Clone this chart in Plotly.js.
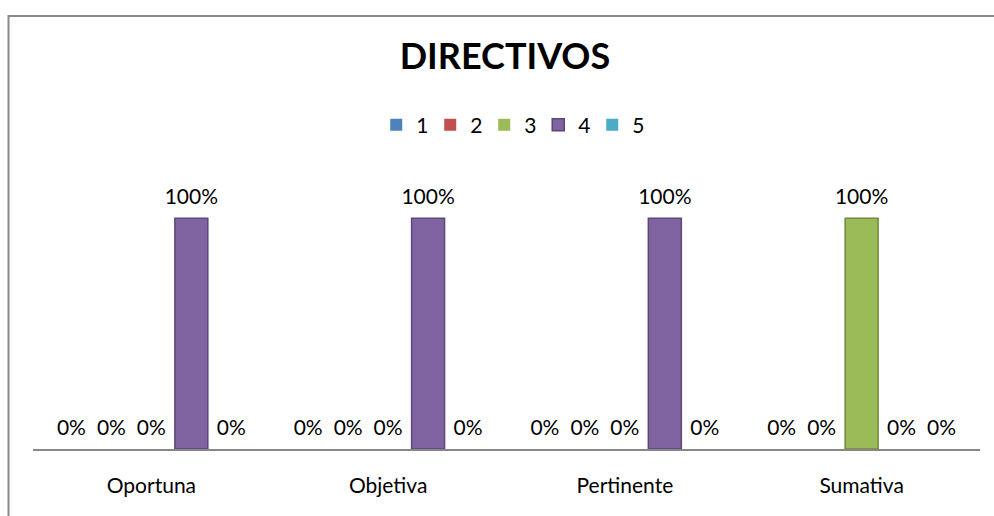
<!DOCTYPE html>
<html>
<head>
<meta charset="utf-8">
<script src="https://cdn.plot.ly/plotly-3.0.1.min.js"></script>
<style>html,body{margin:0;padding:0;background:#fff;}#chart{width:994px;height:516px;}</style>
</head>
<body>
<div id="chart"></div>
<script>
var categories = ["Oportuna", "Objetiva", "Pertinente", "Sumativa"];
var seriesNames = ["1", "2", "3", "4", "5"];
var s1 = [0, 0, 0, 0];
var s2 = [0, 0, 0, 0];
var s3 = [0, 0, 0, 1];
var s4 = [1, 1, 1, 0];
var s5 = [0, 0, 0, 0];
var seriesValues = [s1, s2, s3, s4, s5];
var colors = ["#4F81BD", "#C0504D", "#9BBB59", "#8064A2", "#4BACC6"];
var edgeColors = ["#3A6595", "#9A3B38", "#6F8A3A", "#5C4778", "#358BA3"];

var FONT = "Lato, 'Open Sans', sans-serif";
var GAP = 0.156;

function pct(v){ return Math.round(v*100) + "%"; }

var traces = [];
seriesValues.forEach(function(vals, i){
  traces.push({
    type: "bar",
    name: seriesNames[i],
    x: categories,
    y: vals,
    offsetgroup: "g" + i,
    marker: {color: colors[i], line: {color: edgeColors[i], width: vals.map(function(v){ return v > 0 ? 1.5 : 0; })}},
    hoverinfo: "skip"
  });
});
seriesValues.forEach(function(vals, i){
  traces.push({
    type: "scatter",
    mode: "markers+text",
    showlegend: false,
    x: categories,
    y: vals,
    offsetgroup: "g" + i,
    text: vals.map(pct),
    textposition: "top center",
    textfont: {family: FONT, size: 21, color: "#000"},
    marker: {size: 13, color: "rgba(0,0,0,0)"},
    cliponaxis: false,
    hoverinfo: "skip"
  });
});

var px0 = 33, pw = 947, py0 = 449, ph = 277;
function xp(p){ return (p - px0) / pw; }
function yp(q){ return (py0 - q) / ph; }

var layout = {
  width: 994,
  height: 516,
  margin: {l: 33, r: 14, t: 172, b: 67},
  paper_bgcolor: "#fff",
  plot_bgcolor: "#fff",
  barmode: "group",
  bargap: GAP,
  bargroupgap: 0.175,
  scattermode: "group",
  scattergap: GAP,
  title: {
    text: "<b>DIRECTIVOS</b>",
    font: {family: FONT, size: 36, color: "#000"},
    x: 0.508, xanchor: "center",
    y: 0.891, yanchor: "middle"
  },
  showlegend: true,
  legend: {
    orientation: "h",
    x: 0.505, xanchor: "center",
    y: yp(125), yanchor: "middle",
    font: {family: FONT, size: 21, color: "#000"},
    entrywidth: 9,
    entrywidthmode: "pixels",
    itemclick: false,
    itemdoubleclick: false
  },
  xaxis: {
    type: "category",
    range: [-0.5, 3.5],
    showline: true,
    linecolor: "#878787",
    linewidth: 2,
    showgrid: false,
    zeroline: false,
    ticks: "",
    ticklabelstandoff: 17,
    tickfont: {family: FONT, size: 21, color: "#000"},
    fixedrange: true
  },
  yaxis: {
    range: [0, 1.2],
    visible: false,
    showgrid: false,
    zeroline: false,
    fixedrange: true
  },
  shapes: [{
    type: "path",
    xref: "paper", yref: "paper",
    path: "M" + xp(8.5) + "," + yp(560) + " L" + xp(8.5) + "," + yp(16) + " L" + xp(1060) + "," + yp(16),
    line: {color: "#8A8A8A", width: 2},
    layer: "below"
  }]
};

Plotly.newPlot("chart", traces, layout, {displayModeBar: false, staticPlot: true});
</script>
</body>
</html>
